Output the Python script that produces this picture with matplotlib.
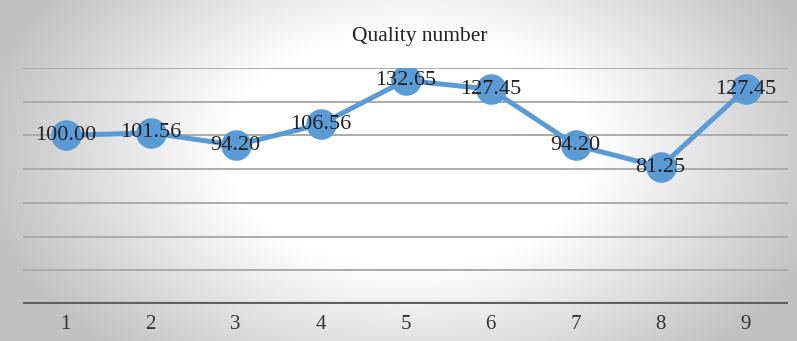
import numpy as np
import matplotlib
matplotlib.use('Agg')
import matplotlib.pyplot as plt

# data
samples = [1, 2, 3, 4, 5, 6, 7, 8, 9]
quality = [100.00, 101.56, 94.20, 106.56, 132.65, 127.45, 94.20, 81.25, 127.45]
labels = ['100.00', '101.56', '94.20', '106.56', '132.65', '127.45', '94.20', '81.25', '127.45']

plt.rcParams['font.family'] = ['Liberation Serif', 'DejaVu Serif']

fig = plt.figure(figsize=(7.97, 3.41), dpi=100)

# radial gradient background, white in the middle, grey towards the edges
bg = fig.add_axes([0, 0, 1, 1], zorder=0)
W, H = 797, 341
xx, yy = np.meshgrid(np.arange(W), np.arange(H))
r = np.sqrt(((xx - 410) / 410.0) ** 2 + ((yy - 150) / 260.0) ** 2)
shade = 1.0 - np.clip((r - 0.45) / 0.6, 0, 1) * 0.24
bg.imshow(np.dstack([shade, shade, shade]), aspect='auto', extent=[0, 1, 0, 1])
bg.axis('off')

ax = fig.add_axes([23 / W, 1 - 304 / H, (788 - 23) / W, (304 - 68) / H], zorder=1)
ax.patch.set_alpha(0)
ax.set_xlim(0.5, 9.5)
ax.set_ylim(0, 140)

for yv in range(20, 141, 20):
    ax.axhline(yv, color='#ababab', lw=1.4, zorder=1)
ax.axhline(0, color='#606060', lw=3, zorder=2)

ax.plot(samples, quality, '-o', color='#5b9bd5', lw=3.6, markersize=21, zorder=3)
for xv, yv, t in zip(samples, quality, labels):
    ax.text(xv, yv, t, ha='center', va='center', fontsize=16, color='#222222', zorder=4)

for s in ax.spines.values():
    s.set_visible(False)
ax.set_yticks([])
ax.set_xticks(samples)
ax.set_xticklabels([str(s) for s in samples], fontsize=15, color='#333333')
ax.tick_params(axis='x', length=0, pad=8)

fig.text(420 / W, 1 - 37 / H, 'Quality number', ha='center', va='center', fontsize=15.5, color='#222222')

plt.savefig('out.png', dpi=100)
